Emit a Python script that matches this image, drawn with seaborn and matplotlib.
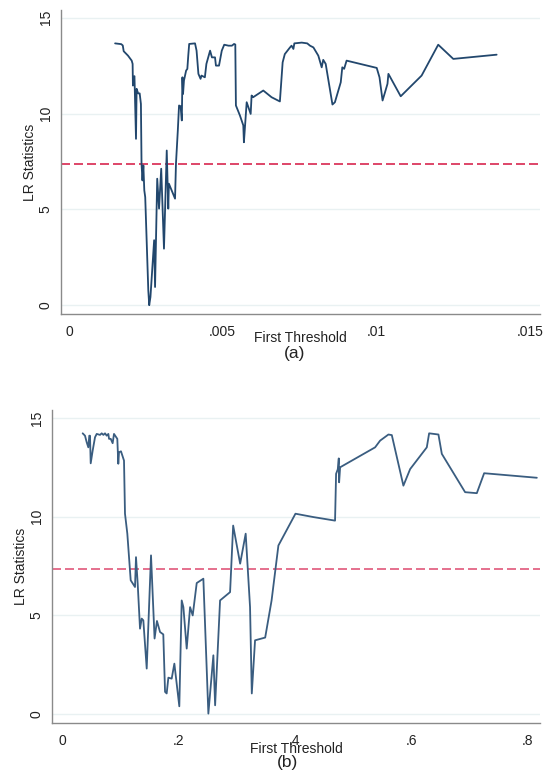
import numpy as np
import pandas as pd
import matplotlib
matplotlib.use("Agg")
import matplotlib.pyplot as plt
import seaborn as sns

# panel (a): first threshold vs LR statistic
thr_a = [0.00150, 0.00170, 0.00175, 0.00178, 0.00192, 0.00204, 0.00207, 0.00208, 0.00210, 0.00213,
         0.00218, 0.00220, 0.00225, 0.00230, 0.00234, 0.00236, 0.00239, 0.00242, 0.00245, 0.00248,
         0.00258, 0.00261, 0.00265, 0.00277, 0.00280, 0.00287, 0.00293, 0.00300, 0.00309, 0.00318,
         0.00323, 0.00325, 0.00345, 0.00348, 0.00354, 0.00358, 0.00363, 0.00367, 0.00369, 0.00371,
         0.00374, 0.00381, 0.00385, 0.00388, 0.00391, 0.00410, 0.00415, 0.00421, 0.00428, 0.00431,
         0.00442, 0.00447, 0.00459, 0.00465, 0.00475, 0.00478, 0.00488, 0.00497, 0.00505, 0.00519,
         0.00530, 0.00537, 0.00541, 0.00543, 0.00556, 0.00567, 0.00569, 0.00578, 0.00591, 0.00594,
         0.00599, 0.00632, 0.00659, 0.00686, 0.00695, 0.00702, 0.00719, 0.00724, 0.00730, 0.00733,
         0.00757, 0.00775, 0.00784, 0.00795, 0.00811, 0.00822, 0.00827, 0.00835, 0.00857, 0.00865,
         0.00884, 0.00889, 0.00895, 0.00903, 0.01001, 0.01010, 0.01020, 0.01028, 0.01036, 0.01039,
         0.01079, 0.01147, 0.01201, 0.01250, 0.01391]
lr_a = [13.66, 13.62, 13.55, 13.25, 13.02, 12.76, 12.59, 11.46, 11.89, 11.95,
        8.68, 11.29, 11.05, 11.05, 10.50, 7.38, 6.51, 7.29, 5.99, 5.64,
        0.78, 0.00, 0.43, 3.39, 0.95, 6.60, 5.04, 7.12, 2.95, 8.07,
        5.04, 6.34, 5.56, 7.38, 9.11, 10.42, 10.38, 9.64, 11.89, 11.02,
        11.72, 12.24, 12.33, 13.02, 13.63, 13.66, 13.28, 12.07, 11.81, 11.98,
        11.89, 12.59, 13.28, 12.93, 12.93, 12.50, 12.50, 13.28, 13.59, 13.54,
        13.54, 13.63, 13.60, 10.42, 9.90, 9.38, 8.50, 10.59, 9.98, 10.94,
        10.85, 11.20, 10.85, 10.63, 12.67, 13.10, 13.45, 13.54, 13.37, 13.66,
        13.70, 13.66, 13.54, 13.45, 13.02, 12.41, 12.80, 12.59, 10.47, 10.59,
        11.63, 12.41, 12.33, 12.76, 12.38, 11.89, 10.68, 11.11, 11.55, 12.07,
        10.90, 11.98, 13.59, 12.85, 13.07]

# panel (b)
thr_b = [0.0355, 0.0395, 0.0424, 0.0452, 0.0469, 0.0481, 0.0493, 0.0527, 0.0567, 0.0596,
         0.0653, 0.0682, 0.0711, 0.0739, 0.0768, 0.0796, 0.0808, 0.0837, 0.0870, 0.0893,
         0.0950, 0.0967, 0.0979, 0.1013, 0.1065, 0.1082, 0.1122, 0.1180, 0.1254, 0.1271,
         0.1300, 0.1340, 0.1369, 0.1397, 0.1455, 0.1529, 0.1590, 0.1631, 0.1684, 0.1740,
         0.1770, 0.1798, 0.1827, 0.1884, 0.1930, 0.2015, 0.2056, 0.2085, 0.2142, 0.2200,
         0.2245, 0.2314, 0.2428, 0.2514, 0.2600, 0.2630, 0.2715, 0.2887, 0.2940, 0.3060,
         0.3155, 0.3230, 0.3260, 0.3316, 0.3490, 0.3600, 0.3717, 0.4010, 0.4318, 0.4690,
         0.4708, 0.4737, 0.4754, 0.4760, 0.4777, 0.5378, 0.5464, 0.5607, 0.5665, 0.5864,
         0.5980, 0.6266, 0.6306, 0.6466, 0.6524, 0.6924, 0.7125, 0.7251, 0.8156]
lr_b = [14.22, 14.10, 13.77, 13.51, 14.10, 14.10, 12.70, 13.35, 14.02, 14.19,
        14.14, 14.22, 14.14, 14.22, 14.10, 14.19, 13.94, 13.94, 13.72, 14.19,
        13.94, 12.68, 13.26, 13.31, 12.84, 10.15, 9.14, 6.78, 6.44, 7.95,
        6.61, 4.33, 4.84, 4.75, 2.31, 8.04, 3.83, 4.72, 4.16, 4.04,
        1.13, 1.05, 1.85, 1.80, 2.56, 0.40, 5.76, 5.42, 3.32, 5.42,
        5.00, 6.64, 6.86, 0.03, 2.98, 0.45, 5.76, 6.18, 9.55, 7.62,
        9.14, 5.42, 1.05, 3.74, 3.88, 5.76, 8.54, 10.15, 9.98, 9.80,
        12.17, 12.40, 12.95, 11.74, 12.50, 13.51, 13.85, 14.16, 14.13, 11.57,
        12.41, 13.51, 14.22, 14.16, 13.18, 11.24, 11.19, 12.20, 11.97]

crit_val = 7.35

sns.set_style("white")
plt.rcParams['font.family'] = ['Liberation Sans', 'DejaVu Sans']

fig = plt.figure(figsize=(5.44, 7.71), dpi=100)
ax1 = fig.add_axes([0.1121, 0.5927, 0.8805, 0.3943])
ax2 = fig.add_axes([0.0961, 0.0619, 0.8965, 0.4063])


def style_axis(ax, xt, xtl, xlim, line_col, dash_col, df, letter, lbl_y, let_x, let_y, ylab_x):
    sns.lineplot(data=df, x="thr", y="lr", ax=ax, sort=False, estimator=None,
                 color=line_col, lw=1.3)
    ax.axhline(crit_val, color=dash_col, lw=1.2, dashes=(5.4, 2.4), zorder=1)
    ax.set_xlim(*xlim)
    ax.set_ylim(-0.46, 15.4)
    ax.set_xticks(xt)
    ax.set_xticklabels(xtl)
    ax.set_yticks([0, 5, 10, 15])
    ax.set_yticklabels(["0", "5", "10", "15"], rotation=90, va="center")
    ax.yaxis.grid(True, color="#e9f1f2", lw=1.0)
    ax.xaxis.grid(False)
    ax.set_axisbelow(True)
    sns.despine(ax=ax)
    for s in ["left", "bottom"]:
        ax.spines[s].set_color("#8a8a8a")
        ax.spines[s].set_linewidth(1.0)
    ax.tick_params(axis="both", length=3.6, width=0.8, color="#8a8a8a",
                   labelsize=10, labelcolor="#222222")
    ax.tick_params(axis="x", pad=4.0)
    ax.tick_params(axis="y", pad=2.5)
    ax.set_xlabel("First Threshold", fontsize=10, color="#222222", va="center")
    ax.xaxis.set_label_coords(0.5, lbl_y)
    ax.set_ylabel("LR Statistics", fontsize=10, color="#222222", va="center")
    ax.yaxis.set_label_coords(ylab_x, 0.5)
    fig.text(let_x, let_y, letter, fontsize=12.5, color="#222222", ha="center", va="center")


df_a = pd.DataFrame({"thr": thr_a, "lr": lr_a})
df_b = pd.DataFrame({"thr": thr_b, "lr": lr_b})

style_axis(ax1, [0, 0.005, 0.01, 0.015], ["0", ".005", ".01", ".015"], (-0.00026, 0.01532),
           "#22476d", "#d8264f", df_a, "(a)", -0.079, 295 / 544, 1 - 354 / 771, -0.0647)
style_axis(ax2, [0, 0.2, 0.4, 0.6, 0.8], ["0", ".2", ".4", ".6", ".8"], (-0.0167, 0.821),
           "#3a5d80", "#e0587a", df_b, "(b)", -0.083, 288 / 544, 1 - 763 / 771, -0.0648)

fig.savefig("out.png", dpi=100)
